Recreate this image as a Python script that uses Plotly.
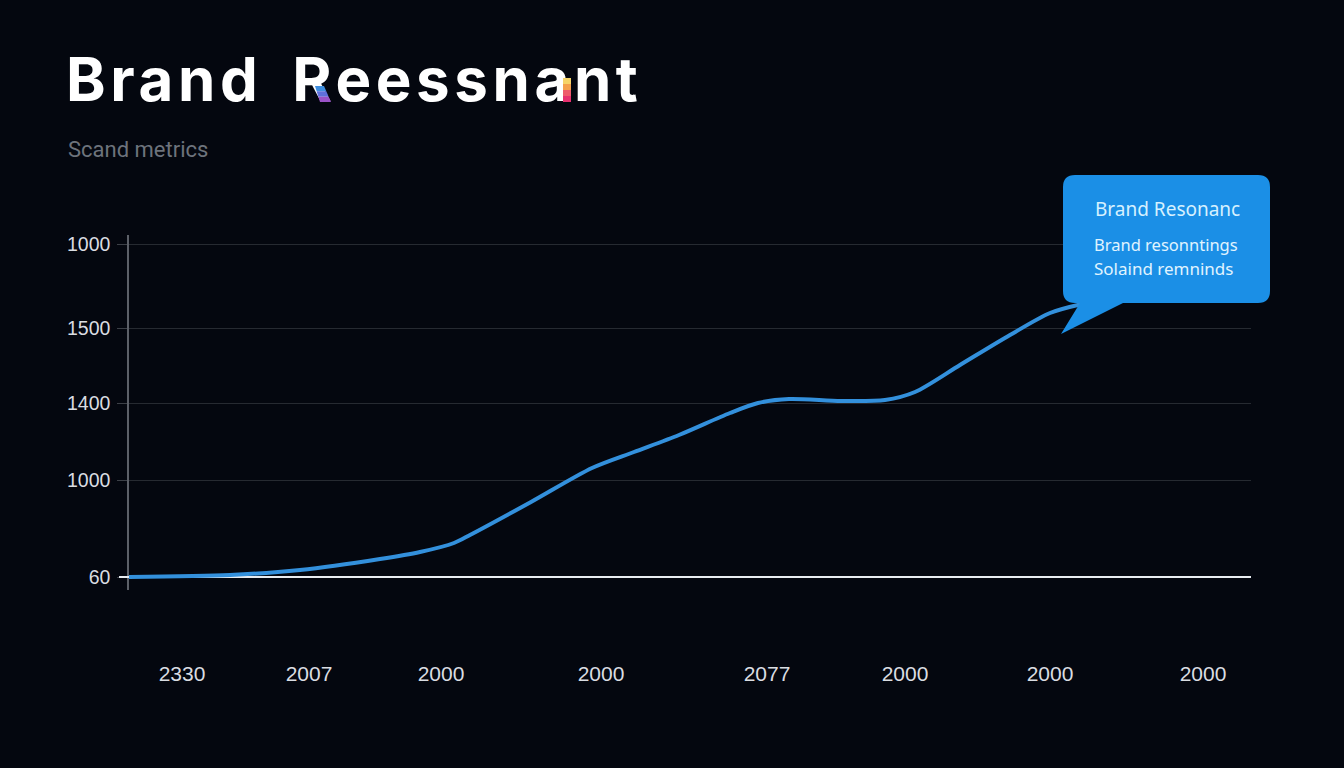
import plotly.graph_objects as go

# courbe principale
line_x = [0, 101, 171, 251, 291, 325, 341, 402, 463, 505, 550, 601, 629, 660, 712, 756, 786, 831, 881, 921, 953]
line_y = [0, 2, 7, 18, 25, 34, 42, 75, 109, 125, 142, 164, 174, 178, 176, 177, 185, 212, 242, 264, 273]

x_ticks = [53, 180, 312, 472, 638, 776, 921, 1074]
x_labels = ["2330", "2007", "2000", "2000", "2077", "2000", "2000", "2000"]
y_ticks = [0, 97, 174, 249, 333]
y_labels = ["60", "1000", "1400", "1500", "1000"]

# couleurs des accents du titre
r_colors = ["#3f8fe0", "#5f6fdc", "#9a52c8"]
a_colors = ["#f6d468", "#f4a04c", "#ee5a6a", "#e6306e"]

BG = "#04070f"
BLUE = "#3390dc"
CALLOUT = "#1b8fe6"

W, H = 1344, 768
L, R, T, B = 129, 1251, 235, 590
TITLE_SPACING = 4.6
TITLE_WORD_GAP = 11


def px_x(p):
    return (p - L) / (R - L)


def px_y(p):
    return (B - p) / (B - T)


def poly(points, color):
    path = "M " + " L ".join(f"{px_x(a)} {px_y(b)}" for a, b in points) + " Z"
    fig.add_shape(type="path", path=path, xref="paper", yref="paper", fillcolor=color, line_width=0, layer="above")


fig = go.Figure()

# ligne de base
fig.add_trace(go.Scatter(x=[0, 1122], y=[0, 0], mode="lines", line=dict(color="#e8ecf0", width=2), hoverinfo="skip"))
fig.add_trace(go.Scatter(x=line_x, y=line_y, mode="lines", line=dict(color=BLUE, width=4, shape="spline", smoothing=0.8), hoverinfo="skip"))

# bulle
c = 12
x0, x1, y0, y1 = px_x(1063), px_x(1270), px_y(175), px_y(303)
cx = c / (R - L)
cy = c / (B - T)
bubble = (
    f"M {x0 + cx} {y0} L {x1 - cx} {y0} Q {x1} {y0} {x1} {y0 - cy} "
    f"L {x1} {y1 + cy} Q {x1} {y1} {x1 - cx} {y1} "
    f"L {px_x(1123)} {y1} L {px_x(1061)} {px_y(334)} L {px_x(1080)} {y1} "
    f"L {x0 + cx} {y1} Q {x0} {y1} {x0} {y1 + cy} "
    f"L {x0} {y0 - cy} Q {x0} {y0} {x0 + cx} {y0} Z"
)
fig.add_shape(type="path", path=bubble, xref="paper", yref="paper", fillcolor=CALLOUT, line_width=0, layer="above")

# tiret de graduation du bas
fig.add_shape(type="line", xref="paper", yref="paper", x0=px_x(119), x1=px_x(129), y0=px_y(577), y1=px_y(577),
              line=dict(color="#e8ecf0", width=2))

# jambe du R
for i, col in enumerate(r_colors):
    t0, t1 = i / 3, (i + 1) / 3
    poly([(315 + 5 * t0, 86 + 16 * t0), (324 + 7 * t0, 86 + 16 * t0), (324 + 7 * t1, 86 + 16 * t1), (315 + 5 * t1, 86 + 16 * t1)], col)

# jambage du a
for i, col in enumerate(a_colors):
    ya = 78 + i * 6
    poly([(563, ya), (571, ya), (571, ya + 6), (563, ya + 6)], col)

# le texte est centré sur son ancre, donc on décale le titre de la moitié de l'espacement ajouté
title_text = "Brand Reessnant"
title_x = 65 + (TITLE_SPACING * len(title_text) + TITLE_WORD_GAP) / 2

texts = [
    (title_text, title_x, 79, 60, "#ffffff", "Inter", "bold"),
    ("Scand metrics", 67, 149, 22, "#6d737c", "Roboto", "normal"),
    ("Brand Resonanc", 1094, 209, 19, "#d6f1ff", "Noto Sans", "normal"),
    ("Brand resonntings", 1093, 244, 16.5, "#e0f4ff", "Noto Sans", "normal"),
    ("Solaind remninds", 1093, 268, 17, "#e0f4ff", "Noto Sans", "normal"),
]
for txt, xp, yp, size, col, fam, wei in texts:
    fig.add_annotation(text=txt, xref="paper", yref="paper", x=px_x(xp), y=px_y(yp), xanchor="left", yanchor="middle",
                       showarrow=False, font=dict(size=size, color=col, family=fam, weight=wei), borderpad=0)

fig.update_layout(
    width=W, height=H, autosize=False, showlegend=False,
    paper_bgcolor=BG, plot_bgcolor=BG,
    margin=dict(l=L, r=W - R, t=T, b=H - B, autoexpand=False),
)
fig.update_xaxes(range=[0, R - L], tickvals=x_ticks, ticktext=x_labels, showgrid=False, zeroline=False, showline=False,
                 ticks="", ticklabelstandoff=69, tickfont=dict(size=21, color="#dadde2", family="Liberation Sans"))
fig.update_yaxes(range=[-13, 342], tickvals=y_ticks, ticktext=y_labels, showgrid=True, gridcolor="#262a31", gridwidth=1,
                 zeroline=False, showline=True, linecolor="#5c6068", linewidth=1.5, ticks="outside", ticklen=10,
                 tickcolor="#3c4047", tickwidth=1, ticklabelstandoff=3,
                 tickfont=dict(size=19.5, color="#dadde2", family="Liberation Sans"))

# marge du body, espacement du titre, accents passés au-dessus du texte
js = """
document.body.style.margin = '0';
document.body.style.background = '#04070f';
var t = document.querySelector('.annotation-text');
if (t) { t.style.letterSpacing = '%spx'; t.style.wordSpacing = '%spx'; }
var svgs = document.querySelectorAll('.main-svg');
var topSvg = svgs[svgs.length - 1];
Array.from(document.querySelectorAll('.layer-above .shapelayer path')).slice(-%d).forEach(function (p) { topSvg.appendChild(p); });
""" % (TITLE_SPACING, TITLE_WORD_GAP, len(r_colors) + len(a_colors))
fig.write_html("out.html", post_script=js, config={"displayModeBar": False})
